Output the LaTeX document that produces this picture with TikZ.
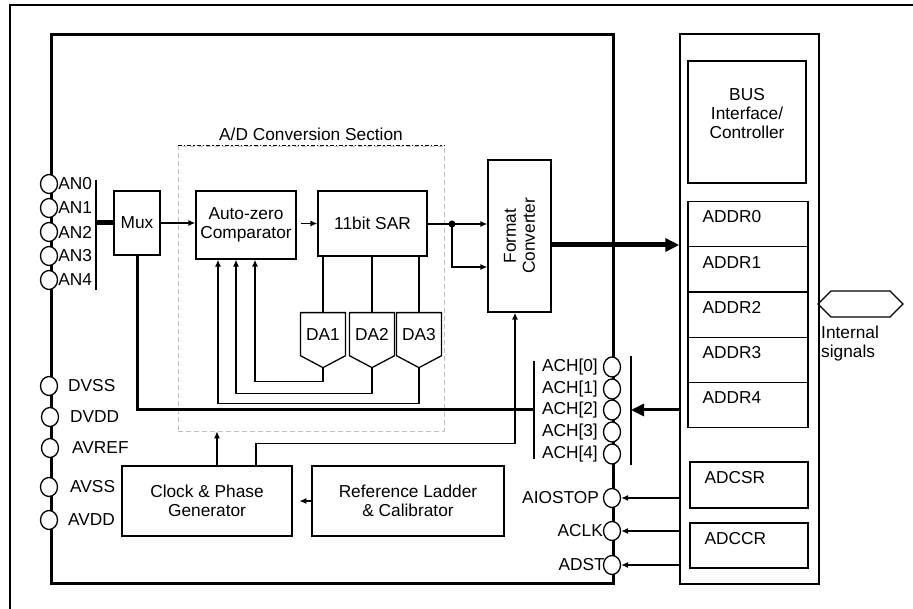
\documentclass[tikz,border=0pt]{standalone}
\usepackage{fontspec}
\setmainfont{Liberation Sans}
\usetikzlibrary{arrows.meta, shapes.geometric, shapes.symbols}

\tikzset{
  blk/.style={draw, line width=1.3pt, align=center, inner sep=0pt},
  pin/.style={ellipse, draw, fill=white, line width=1.3pt, minimum width=17pt, minimum height=19pt, inner sep=0pt},
  dac/.style={signal, signal to=south, draw, line width=1.3pt, minimum width=45pt, minimum height=52pt, signal pointer angle=124, inner sep=0pt},
  wire/.style={line width=1.3pt},
  bus/.style={line width=3pt},
  pinlbl/.style={inner sep=0pt},
  reglbl/.style={anchor=west, xshift=15pt, yshift=-16pt, inner sep=0pt},
}

\begin{document}
\begin{tikzpicture}[x=1pt, y=-1pt, >={Latex[length=7pt,width=6pt]}, font=\fontsize{17.3}{19}\selectfont]
    \useasboundingbox (0,0) rectangle (913,609);

    % Outer frame (runs off the page)
    \draw[line width=1.5pt] (10,609) -- (10,5) -- (913,5);

    % A/D Conversion Section
    \node[draw=gray!50, dash pattern=on 5pt off 3pt, line width=0.6pt, minimum width=266pt, minimum height=285pt, inner sep=0pt] (adc) at (311,288.5) {};
    \draw[line width=1.6pt, dash pattern=on 4pt off 2pt on 1.5pt off 2pt] (adc.north west) -- (adc.north east);
    \node[above=1pt] (adclbl) at (adc.north) {A/D Conversion Section};

    % Chip outline and bus side
    \draw[line width=3pt] (51,35) rectangle (613,583);
    \node[blk, line width=1.5pt, minimum width=139pt, minimum height=550pt] (ctl) at (749.5,309) {};

    % Blocks
    \node[blk, minimum width=46pt, minimum height=64pt] (mux) at (137,223) {Mux};
    \node[blk, minimum width=100pt, minimum height=68pt] (cmp) at (246,225) {Auto-zero\\Comparator};
    \node[blk, minimum width=109pt, minimum height=65pt] (sar) at (372.5,223.5) {11bit SAR};
    \node[blk, minimum width=63pt, minimum height=152pt] (fmt) at (519.5,236) {};
    \node[rotate=90, align=center, inner sep=0pt] (fmttxt) at (fmt.center) {Format\\Converter};
    \node[blk, minimum width=170pt, minimum height=70pt] (clk) at (207,501) {Clock \& Phase\\Generator};
    \node[blk, minimum width=192pt, minimum height=70pt] (ref) at (408,501) {Reference Ladder\\\& Calibrator};
    \node[dac, anchor=north] (da1) at (323,312) {DA1};
    \node[dac, anchor=north] (da2) at (372,312) {DA2};
    \node[dac, anchor=north] (da3) at (419,312) {DA3};

    % Registers
    \node[blk, minimum width=118pt, minimum height=122pt,
          label={[align=center, yshift=8pt]center:BUS\\Interface/\\Controller}] (bif) at (747,122) {};
    \foreach \i in {0,...,4} {
        \node[blk, minimum width=120pt, minimum height=45.2pt, anchor=north,
              label={[reglbl]north west:ADDR\i}] (addr\i) at (748,201+45.2*\i) {};
    }
    \node[blk, minimum width=118pt, minimum height=46pt, label={[reglbl]north west:ADCSR}] (adcsr) at (749,485) {};
    \node[blk, minimum width=118pt, minimum height=45pt, label={[reglbl]north west:ADCCR}] (adccr) at (749,545.5) {};

    % Internal signals
    \node[signal, signal to=west and east, draw, line width=1.3pt, minimum width=85pt, minimum height=26pt, inner sep=0pt] (isig) at (860.5,304) {};
    \node[anchor=north west, align=left, inner sep=0pt] (isiglbl) at (821,326) {Internal\\signals};

    % Analog inputs
    \foreach \i/\y in {0/184,1/208,2/232,3/256,4/280} {
        \node[pin] (an\i) at (49,\y) {};
        \node[pinlbl, anchor=west] (anl\i) at (an\i.east) {AN\i};
    }
    \draw[wire] (96,180) -- (96,290);
    \coordinate (anbus) at (96,223);

    % Supply pins
    \foreach \p/\x/\y in {dvss/49/386, dvdd/50/417, avref/50/448, avss/49/487, avdd/49/520} {
        \node[pin] (\p) at (\x,\y) {};
    }
    \node[pinlbl, anchor=west] (dvssl) at (68,386) {DVSS};
    \node[pinlbl, anchor=west] (dvddl) at (70,417) {DVDD};
    \node[pinlbl, anchor=west] (avrefl) at (72,448) {AVREF};
    \node[pinlbl, anchor=west] (avssl) at (70,487) {AVSS};
    \node[pinlbl, anchor=west] (avddl) at (68,520) {AVDD};

    % Channel select pins
    \foreach \i/\y in {0/367,1/389,2/410,3/432,4/454} {
        \node[pin, minimum height=20pt] (ach\i) at (612,\y) {};
        \node[pinlbl, anchor=east] (achl\i) at (598,\y) {ACH[\i]};
    }
    \draw[wire] (534,361) -- (534,459);
    \draw[wire] (631,356) -- (631,465);
    \coordinate (achin) at (534,410);
    \coordinate (achbar) at (631,410);

    % Control pins
    \node[pin] (aiostop) at (612,498) {};
    \node[pinlbl, anchor=east] (aiostopl) at (599,498) {AIOSTOP};
    \node[pin] (aclk) at (612,531) {};
    \node[pinlbl, anchor=east] (aclkl) at (603,531) {ACLK};
    \node[pin] (adst) at (612,565) {};
    \node[pinlbl, anchor=east] (adstl) at (605,565) {ADST};

    % Signal path
    \draw[line width=5pt] (anbus) -- (mux.west);
    \draw[wire, ->] (mux.east) -- (mux.east -| cmp.west);
    \draw[wire, ->] ([xshift=4pt]sar.west -| cmp.east) -- (sar.west);
    \node[circle, fill, inner sep=0pt, minimum size=7pt] (jn) at (452,224) {};
    \draw[wire] (sar.east |- jn) -- (jn.center);
    \draw[wire, ->] (jn.center) -- (jn -| fmt.west);
    \draw[wire, ->] (jn.center) |- ([yshift=-31pt]fmt.west);
    \draw[line width=5pt, -{Triangle[length=14pt,width=13pt]}] ([yshift=-9pt]fmt.east) -- ([yshift=-9pt]fmt.east -| ctl.west);

    % SAR to DAs and back to the comparator
    \foreach \i in {1,2,3} {
        \draw[wire] (sar.south -| da\i.north) -- (da\i.north);
    }
    \draw[wire, ->] (da1.south) -- ++(0,13) -| ([xshift=9pt]cmp.south);
    \draw[wire, ->] (da2.south) -- ++(0,25) -| ([xshift=-10pt]cmp.south);
    \draw[wire, ->] (da3.south) -- ++(0,35) -| ([xshift=-28pt]cmp.south);

    % Channel select
    \draw[bus] (mux.south) |- (achin);
    \draw[bus, -{Triangle[length=13pt,width=12pt]}] (ctl.west |- achbar) -- (achbar);

    % Clocks
    \draw[wire, ->] ([xshift=10pt]clk.north) -- ([xshift=10pt]clk.north |- adc.south);
    \draw[wire, ->] ([xshift=49pt]clk.north) -- ++(0,-22) -| ([xshift=-4.5pt]fmt.south);
    \draw[wire, ->] (ref.west) -- ++(-12,0);

    % Control lines
    \draw[wire, ->] (ctl.west |- aiostop) -- (aiostop.east);
    \draw[wire, ->] (ctl.west |- aclk) -- (aclk.east);
    \draw[wire, ->] (ctl.west |- adst) -- (adst.east);
\end{tikzpicture}
\end{document}
